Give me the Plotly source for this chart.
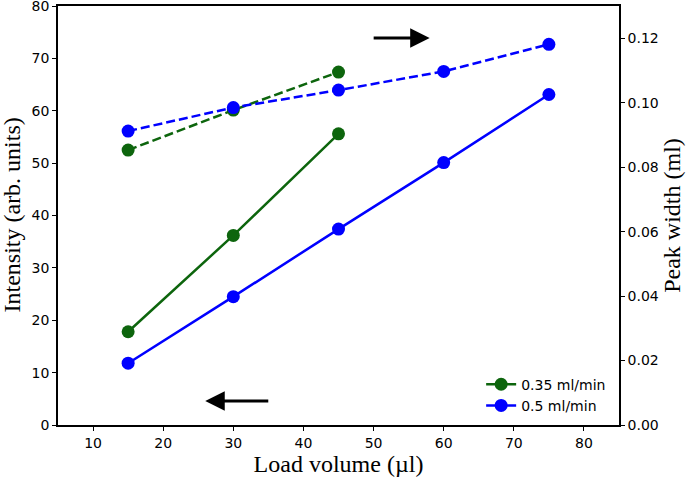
import plotly.graph_objects as go

load = [15, 30, 45, 60, 75]
x_035 = [15, 30, 45]
int_035 = [17.8, 36.2, 55.6]
int_05 = [11.8, 24.5, 37.4, 50.1, 63.1]
pw_035 = [0.0853, 0.0977, 0.1095]
pw_05 = [0.0912, 0.0985, 0.1039, 0.1097, 0.1181]

green = "#0d650d"
blue = "#0000ff"
tickfont = dict(family="DejaVu Sans", size=14, color="black")
titlefont = dict(family="Liberation Serif", size=24, color="black")
dash = "9px,4px"

fig = go.Figure()
fig.add_trace(go.Scatter(x=x_035, y=int_035, mode="lines+markers", name="0.35 ml/min",
                         line=dict(color=green, width=2.5), marker=dict(size=13, color=green)))
fig.add_trace(go.Scatter(x=load, y=int_05, mode="lines+markers", name="0.5 ml/min",
                         line=dict(color=blue, width=2.5), marker=dict(size=13, color=blue)))
fig.add_trace(go.Scatter(x=x_035, y=pw_035, mode="lines+markers", yaxis="y2", showlegend=False,
                         line=dict(color=green, width=2.5, dash=dash), marker=dict(size=13, color=green)))
fig.add_trace(go.Scatter(x=load, y=pw_05, mode="lines+markers", yaxis="y2", showlegend=False,
                         line=dict(color=blue, width=2.5, dash=dash), marker=dict(size=13, color=blue)))

axis_common = dict(showgrid=False, zeroline=False, showline=True, linecolor="black", linewidth=1.5,
                   ticks="outside", ticklen=4, tickwidth=1.2, tickcolor="black", tickfont=tickfont,
                   automargin=False, ticklabeloverflow="allow")

fig.update_layout(
    width=692, height=478,
    margin=dict(l=58, r=73, t=6, b=53),
    paper_bgcolor="white", plot_bgcolor="white",
    xaxis=dict(range=[5, 85], tickvals=[10, 20, 30, 40, 50, 60, 70, 80], mirror=True,
               title=dict(text="Load volume (µl)", font=titlefont, standoff=0), **axis_common),
    yaxis=dict(range=[0, 80], tickvals=[0, 10, 20, 30, 40, 50, 60, 70, 80], **axis_common),
    yaxis2=dict(range=[0, 0.13], tickvals=[0, 0.02, 0.04, 0.06, 0.08, 0.10, 0.12], tickformat=".2f",
                overlaying="y", side="right",
                title=dict(text="Peak width (ml)", font=titlefont, standoff=0), **axis_common),
    legend=dict(x=0.986, y=0.008, xanchor="right", yanchor="bottom", bgcolor="rgba(0,0,0,0)",
                font=dict(family="DejaVu Sans", size=14, color="black"), tracegroupgap=0,
                itemwidth=30),
    showlegend=True,
)

fig.add_annotation(x=-47 / 561, y=0.5, xref="paper", yref="paper", text="Intensity (arb. units)",
                   textangle=-90, showarrow=False, font=titlefont, xanchor="center", yanchor="middle")

fig.add_annotation(x=58, y=73.9, ax=49.8, ay=73.9, xref="x", yref="y", axref="x", ayref="y",
                   showarrow=True, arrowhead=2, arrowsize=1.3, arrowwidth=3, arrowcolor="black", text="")
fig.add_annotation(x=26, y=4.6, ax=35.2, ay=4.6, xref="x", yref="y", axref="x", ayref="y",
                   showarrow=True, arrowhead=2, arrowsize=1.3, arrowwidth=3, arrowcolor="black", text="")

fig.write_html("out.html", config={"displayModeBar": False},
               post_script="document.body.style.margin='0';document.body.style.overflow='hidden';")
